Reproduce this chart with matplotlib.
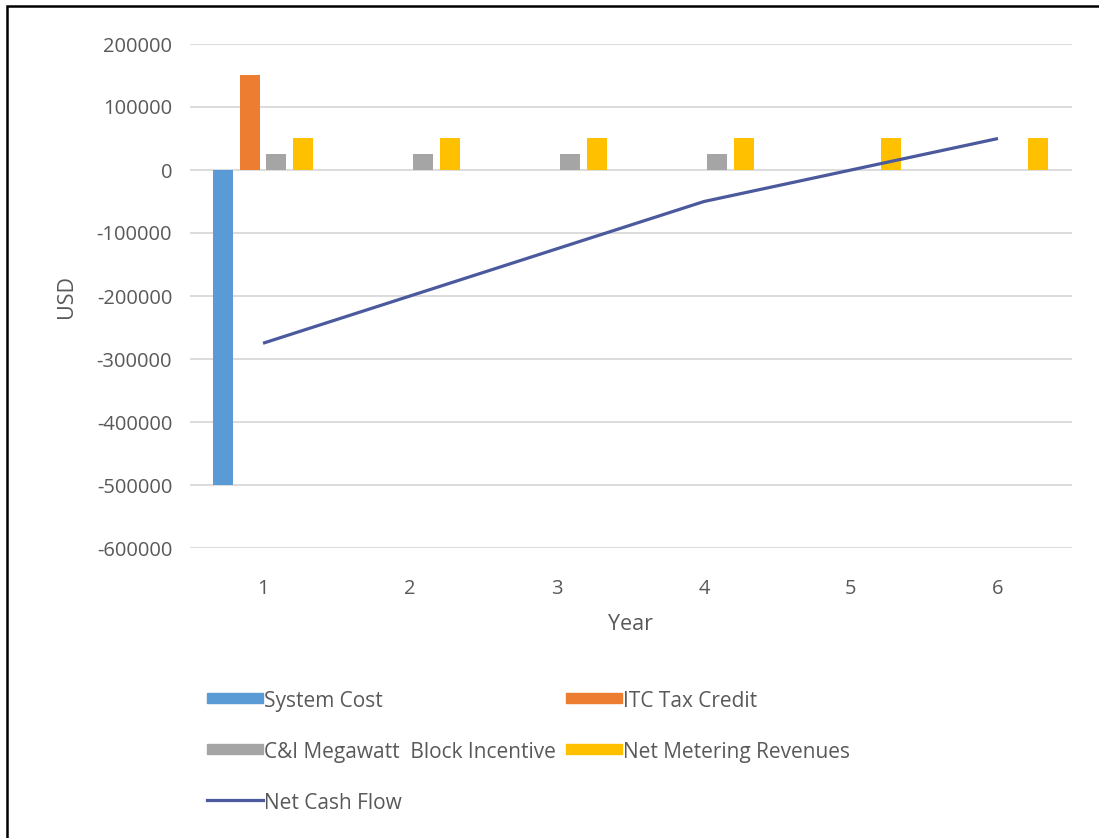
import matplotlib
matplotlib.use('Agg')
import matplotlib.pyplot as plt
import numpy as np
from matplotlib.patches import Rectangle
from matplotlib.lines import Line2D

# cash flow components by year (USD)
years = [1, 2, 3, 4, 5, 6]
system_cost = [-500000, 0, 0, 0, 0, 0]
itc_tax_credit = [150000, 0, 0, 0, 0, 0]
block_incentive = [25000, 25000, 25000, 25000, 0, 0]
net_metering = [50000, 50000, 50000, 50000, 50000, 50000]
net_cash_flow = [-275000, -200000, -125000, -50000, 0, 50000]

series_names = ['System Cost', 'ITC Tax Credit',
                'C&I Megawatt  Block Incentive', 'Net Metering Revenues']
series_colors = ['#5B9BD5', '#ED7D31', '#A5A5A5', '#FFC000']
line_name = 'Net Cash Flow'
line_color = '#4A5A9C'
y_ticks = [200000, 100000, 0, -100000, -200000, -300000, -400000, -500000, -600000]

text_gray = '#595959'
plt.rcParams['font.family'] = ['Open Sans', 'DejaVu Sans']

W, H = 1099, 838
fig = plt.figure(figsize=(W / 100, H / 100), dpi=100)
fig.patch.set_facecolor('white')

ax = fig.add_axes([189.5 / W, 1 - 548 / H, 882 / W, 504 / H])

x = np.array(years)
bar_w = 0.136
step = 0.18
for i, (vals, col) in enumerate(zip([system_cost, itc_tax_credit, block_incentive, net_metering],
                                    series_colors)):
    ax.bar(x + (i - 1.5) * step, vals, width=bar_w, color=col, zorder=2)

ax.plot(x, net_cash_flow, color=line_color, lw=2.3, zorder=3, solid_capstyle='butt')

ax.set_xlim(0.5, 6.5)
ax.set_ylim(-600000, 200000)
ax.set_yticks(y_ticks)
ax.set_yticklabels([str(v) for v in y_ticks])
ax.set_xticks(years)
ax.grid(axis='y', color='#D9D9D9', lw=1.3, zorder=0)
for s in ax.spines.values():
    s.set_visible(False)
ax.tick_params(axis='both', length=0, colors=text_gray, labelsize=14.5)
ax.tick_params(axis='y', pad=12.5)
ax.tick_params(axis='x', pad=22)
ax.set_xlabel('Year', color=text_gray, fontsize=15.5, labelpad=11)
ax.set_ylabel('USD', color=text_gray, fontsize=15.5, labelpad=14)

# legend drawn in figure pixels, laid out row by row
entries = [(series_names[0], series_colors[0], 'bar'), (series_names[1], series_colors[1], 'bar'),
           (series_names[2], series_colors[2], 'bar'), (series_names[3], series_colors[3], 'bar'),
           (line_name, line_color, 'line')]
col_x = [207, 566]
row_y = [698, 749, 800]
for k, (name, col, kind) in enumerate(entries):
    px = col_x[k % 2]
    py = row_y[k // 2]
    if kind == 'bar':
        fig.add_artist(Rectangle((px / W, 1 - (py + 5) / H), 56 / W, 10 / H,
                                 transform=fig.transFigure, color=col))
    else:
        fig.add_artist(Line2D([px / W, (px + 56) / W], [1 - py / H, 1 - py / H],
                              transform=fig.transFigure, color=col, lw=2.3))
    fig.text((px + 57) / W, 1 - (py + 3) / H, name, color=text_gray, fontsize=15,
             ha='left', va='center')

# outer frame
fig.add_artist(Rectangle((7 / W, -0.05), 1.1, 1.05 - 6.5 / H, transform=fig.transFigure,
                         fill=False, ec='black', lw=1.8))

fig.savefig('out.png', dpi=100)
